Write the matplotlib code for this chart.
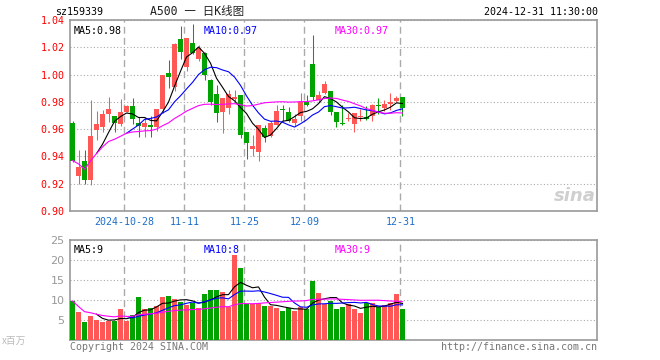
import numpy as np
import pandas as pd
import matplotlib
matplotlib.use('Agg')
import matplotlib.pyplot as plt

# daily K data, 2024-10-15 .. 2024-12-31
opens = [0.9645, 0.9257, 0.9365, 0.9225, 0.9596, 0.9613, 0.9710, 0.9694, 0.9637, 0.9723,
         0.9768, 0.9645, 0.9613, 0.9630, 0.9613, 0.9748, 1.0013, 0.9910, 1.0264, 1.0053,
         1.0234, 1.0116, 1.0156, 0.9962, 0.9858, 0.9728, 0.9758, 0.9822, 0.9851, 0.9576,
         0.9458, 0.9433, 0.9605, 0.9551, 0.9630, 0.9748, 0.9723, 0.9645, 0.9694, 0.9797,
         1.0080, 0.9817, 0.9866, 0.9880, 0.9723, 0.9647, 0.9674, 0.9637, 0.9686, 0.9691,
         0.9699, 0.9772, 0.9753, 0.9785, 0.9807, 0.9836]
highs = [0.9660, 0.9446, 0.9446, 0.9810, 0.9736, 0.9743, 0.9836, 0.9700, 0.9822, 0.9777,
         0.9827, 0.9686, 0.9686, 0.9700, 0.9748, 1.0000, 1.0107, 1.0234, 1.0357, 1.0270,
         1.0374, 1.0220, 1.0166, 0.9970, 0.9920, 0.9827, 0.9886, 0.9886, 0.9851, 0.9576,
         0.9556, 0.9630, 0.9630, 0.9662, 0.9777, 0.9777, 0.9760, 0.9711, 0.9866, 0.9851,
         1.0293, 0.9883, 0.9950, 0.9880, 0.9723, 0.9777, 0.9718, 0.9718, 0.9748, 0.9768,
         0.9785, 0.9827, 0.9810, 0.9866, 0.9840, 0.9836]
lows = [0.9360, 0.9200, 0.9200, 0.9190, 0.9520, 0.9576, 0.9650, 0.9580, 0.9620, 0.9723,
        0.9637, 0.9546, 0.9546, 0.9546, 0.9588, 0.9720, 0.9900, 0.9876, 1.0116, 1.0023,
        1.0150, 1.0100, 0.9957, 0.9775, 0.9655, 0.9573, 0.9710, 0.9800, 0.9532, 0.9384,
        0.9404, 0.9367, 0.9507, 0.9539, 0.9630, 0.9662, 0.9650, 0.9625, 0.9662, 0.9770,
        0.9810, 0.9800, 0.9860, 0.9704, 0.9613, 0.9630, 0.9662, 0.9580, 0.9660, 0.9669,
        0.9662, 0.9711, 0.9736, 0.9743, 0.9800, 0.9700]
closes = [0.9370, 0.9320, 0.9230, 0.9550, 0.9637, 0.9710, 0.9748, 0.9642, 0.9723, 0.9768,
          0.9674, 0.9620, 0.9642, 0.9618, 0.9748, 0.9999, 0.9984, 1.0225, 1.0166, 1.0269,
          1.0156, 1.0195, 0.9994, 0.9802, 0.9718, 0.9827, 0.9856, 0.9836, 0.9556, 0.9497,
          0.9473, 0.9630, 0.9539, 0.9645, 0.9736, 0.9740, 0.9662, 0.9674, 0.9797, 0.9777,
          0.9834, 0.9851, 0.9932, 0.9728, 0.9650, 0.9640, 0.9680, 0.9718, 0.9699, 0.9674,
          0.9777, 0.9768, 0.9785, 0.9802, 0.9831, 0.9753]
# volume, millions
volumes = [9.75, 7.0, 4.5, 6.0, 5.0, 4.5, 4.8, 4.8, 7.8, 4.75,
           6.2, 10.75, 7.8, 8.1, 8.5, 10.75, 11.0, 10.3, 9.6, 8.75,
           9.3, 8.1, 11.5, 12.5, 12.5, 12.0, 8.25, 21.25, 18.0, 8.9,
           8.9, 9.3, 8.5, 8.5, 8.1, 7.25, 7.9, 7.25, 8.3, 7.8,
           14.8, 11.75, 8.9, 9.75, 7.8, 8.25, 8.9, 7.8, 6.8, 9.3,
           9.3, 8.2, 8.75, 9.3, 11.6, 7.8]

date_idx = [9, 19, 29, 39, 55]
date_labels = ['2024-10-28', '11-11', '11-25', '12-09', '12-31']
price_ticks = [0.90, 0.92, 0.94, 0.96, 0.98, 1.00, 1.02, 1.04]
vol_ticks = [5, 10, 15, 20, 25]
ma_windows = [5, 10, 30]
ma_minp = [5, 10, 1]   # MA30 is drawn from the first day (fund is new)
ma_colors = ['black', '#0000FF', '#FF00FF']
price_ma_text = ['MA5:0.98', 'MA10:0.97', 'MA30:0.97']
vol_ma_text = ['MA5:9', 'MA10:8', 'MA30:9']

RED = '#FF5656'
GREEN = '#00A300'
FRAME = '#999999'
GRID = '#AAAAAA'
MONO = 'DejaVu Sans Mono'

W, H = 660, 360
fig = plt.figure(figsize=(W / 100, H / 100), dpi=100)

def fx(px):
    return px / W

def fy(py):
    return 1 - py / H

L, R = 70, 597
ax = fig.add_axes([fx(L), fy(211), fx(R - L), (211 - 20) / H])
axv = fig.add_axes([fx(L), fy(340), fx(R - L), (340 - 240) / H])

x = np.arange(len(closes))
o = np.array(opens); c = np.array(closes)
up = c >= o
cols = [RED if u else GREEN for u in up]
xlim = (-0.42, 87.42)
grid_x = [d - 0.35 for d in date_idx]

# price panel
ax.vlines(x, lows, highs, colors=cols, linewidth=0.75, zorder=3)
body = np.maximum(np.abs(c - o), 0.0006)
ax.bar(x, body, bottom=np.minimum(o, c), width=0.82, color=cols, linewidth=0, zorder=4)
cs = pd.Series(closes)
for w, mp, col in zip(ma_windows, ma_minp, ma_colors):
    ax.plot(x, cs.rolling(w, min_periods=mp).mean(), color=col, linewidth=0.8, zorder=5)
ax.set_xlim(*xlim)
ax.set_ylim(0.90, 1.04)
ax.set_yticks(price_ticks)
ax.set_yticklabels(['%.2f' % t for t in price_ticks], color='#FF0000', fontfamily=MONO, fontsize=7.2)
ax.set_xticks(grid_x)
ax.set_xticklabels(date_labels, color='#1E6EC8', fontfamily=MONO, fontsize=7.2)
ax.tick_params(length=0, pad=4)
ax.grid(axis='y', linestyle=(0, (1, 2)), color=GRID, linewidth=0.8)
for gx in grid_x:
    ax.axvline(gx, color=GRID, linestyle=(0, (5, 3)), linewidth=1.0, zorder=1)
for t, col, px in zip(price_ma_text, ma_colors, [74, 204, 335]):
    ax.text((px - L) / (R - L), 0.97, t, transform=ax.transAxes, color=col,
            fontfamily=MONO, fontsize=7.2, va='top', ha='left')
ax.text(0.997, 0.03, 'sina', transform=ax.transAxes, color='#C4C4C4', alpha=0.8,
        fontsize=13, fontweight='bold', style='italic', ha='right', va='bottom')

# volume panel
vs = pd.Series(volumes)
axv.bar(x, volumes, width=0.82, color=cols, linewidth=0, zorder=3)
for w, mp, col in zip(ma_windows, ma_minp, ma_colors):
    axv.plot(x, vs.rolling(w, min_periods=mp).mean(), color=col, linewidth=0.8, zorder=5)
axv.set_xlim(*xlim)
axv.set_ylim(0, 25)
axv.set_yticks(vol_ticks)
axv.set_yticklabels([str(t) for t in vol_ticks], color='#999999', fontsize=8)
axv.set_xticks([])
axv.tick_params(length=0, pad=4)
axv.grid(axis='y', linestyle=(0, (1, 2)), color=GRID, linewidth=0.8)
for gx in grid_x:
    axv.axvline(gx, color=GRID, linestyle=(0, (5, 3)), linewidth=1.0, zorder=1)
for t, col, px in zip(vol_ma_text, ma_colors, [74, 204, 335]):
    axv.text((px - L) / (R - L), 0.95, t, transform=axv.transAxes, color=col,
             fontfamily=MONO, fontsize=7.2, va='top', ha='left')

for a in (ax, axv):
    for s in a.spines.values():
        s.set_color(FRAME)
        s.set_linewidth(1.2)

# header and footer
fig.text(fx(55), fy(12), 'sz159339', fontfamily=MONO, fontsize=7.2, va='center', ha='left')
fig.text(fx(150), fy(12), 'A500 一 日K线图', fontfamily=[MONO, 'Noto Sans CJK SC'],
         fontsize=8.3, va='center', ha='left', color='#222222')
fig.text(fx(598), fy(12), '2024-12-31 11:30:00', fontfamily=MONO, fontsize=7.2,
         va='center', ha='right')
fig.text(fx(2), fy(341), 'x百万', fontfamily=['Noto Sans CJK SC', MONO], fontsize=7,
         va='center', ha='left', color='#BBBBBB')
fig.text(fx(L), fy(347), 'Copyright 2024 SINA.COM', fontfamily=MONO, fontsize=7.2,
         va='center', ha='left', color='#777777')
fig.text(fx(R), fy(347), 'http://finance.sina.com.cn', fontfamily=MONO, fontsize=7.2,
         va='center', ha='right', color='#777777')

fig.savefig('out.png', dpi=100)
